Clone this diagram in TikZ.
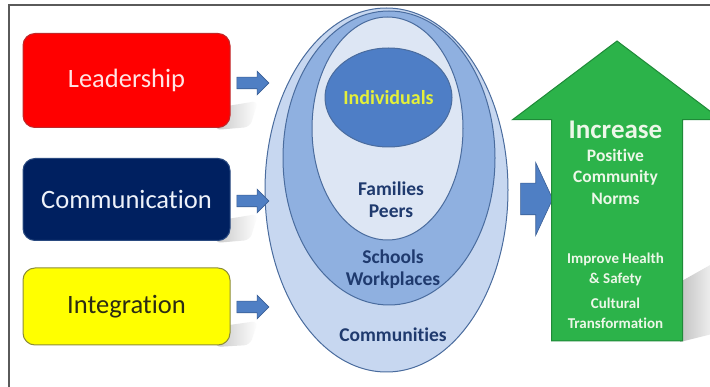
\documentclass[tikz,border=0pt]{standalone}
\usepackage{fontspec}
\setmainfont[Ligatures=NoCommon]{Carlito}
\usetikzlibrary{shapes.geometric,shapes.arrows,calc}

\definecolor{leadred}{HTML}{FF0000}
\definecolor{leadredline}{HTML}{C0282A}
\definecolor{leadtext}{HTML}{FFE4E4}
\definecolor{commnavy}{HTML}{002060}
\definecolor{commline}{HTML}{2A4A80}
\definecolor{commtext}{HTML}{EEF2FA}
\definecolor{intyellow}{HTML}{FFFF00}
\definecolor{intline}{HTML}{8C8C3A}
\definecolor{inttext}{HTML}{2B2B14}
\definecolor{arrowblue}{HTML}{4F7FC4}
\definecolor{arrowline}{HTML}{3A5F95}
\definecolor{ringouter}{HTML}{C7D7F0}
\definecolor{ringmid}{HTML}{8FB0E0}
\definecolor{ringinner}{HTML}{DDE6F4}
\definecolor{coreblue}{HTML}{4E7EC6}
\definecolor{ringline}{HTML}{4A6C9E}
\definecolor{labelnavy}{HTML}{1F3A6E}
\definecolor{coretext}{HTML}{E4F03A}
\definecolor{upgreen}{HTML}{2CB34A}
\definecolor{upgreenline}{HTML}{1F8A38}
\definecolor{greentext}{HTML}{ECF7E8}
\definecolor{framegray}{HTML}{5A5A5A}

\tikzset{
  frameline/.style={draw=framegray, line width=1.8pt},
  box/.style={rectangle, rounded corners=12pt, minimum width=207pt, inner sep=0pt,
    line width=1pt, font=\fontsize{26.5}{28}\selectfont},
  smallarrow/.style={single arrow, fill=arrowblue, draw=arrowline, line width=0.6pt,
    minimum height=32pt, inner xsep=0pt, inner ysep=5.5pt, outer sep=0pt,
    single arrow head extend=6pt},
  bigarrow/.style={single arrow, fill=arrowblue, draw=arrowline, line width=0.6pt,
    minimum height=32pt, inner xsep=0pt, inner ysep=15.5pt, outer sep=0pt,
    single arrow head extend=20.5pt, single arrow tip angle=130},
  uparrow/.style={single arrow, shape border rotate=90, fill=upgreen, draw=upgreenline,
    line width=1pt, minimum height=300pt, inner xsep=65pt, inner ysep=0pt,
    outer sep=0pt, single arrow head extend=39pt, single arrow tip angle=106},
  ring/.style={ellipse, draw=ringline, line width=1pt, inner sep=0pt},
  ringlabel/.style={text=labelnavy, font=\bfseries\fontsize{19.5}{22}\selectfont,
    align=center, inner sep=0pt},
  greenlabel/.style={text=greentext, font=\bfseries\fontsize{17.5}{21.5}\selectfont,
    align=center, inner sep=0pt},
  greensmall/.style={text=greentext, font=\bfseries\fontsize{15}{19.5}\selectfont,
    align=center, inner sep=0pt},
  softshade/.style={left color=black!22, right color=white, draw=none,
    rounded corners=6pt},
}

\begin{document}
\begin{tikzpicture}[x=1pt, y=-1pt]
\useasboundingbox (0,0) rectangle (710,387);
\fill[white] (0,0) rectangle (710,387);

% outer frame (top and left edges)
\coordinate (fbl) at (9,395);
\coordinate (ftl) at (9,5);
\coordinate (ftr) at (716,5);
\draw[frameline] (fbl) -- (ftl) -- (ftr);

% soft shadows behind the boxes and the green arrow
\shade[softshade] (215,130) -- (215,108) -- (258,101) -- (250,127) -- cycle;
\shade[softshade] (215,243) -- (215,221) -- (258,214) -- (250,240) -- cycle;
\shade[softshade] (215,347) -- (215,327) -- (258,321) -- (250,345) -- cycle;
\shade[left color=black!24, right color=black!6, draw=none]
  (680,342) -- (680,282) -- (712,264) -- (712,334) -- cycle;

% the three driver boxes
\node[box, minimum height=94pt, fill=leadred, draw=leadredline, text=leadtext]
  (lead) at (126.5,80.5) {Leadership};
\node[box, minimum height=82pt, fill=commnavy, draw=commline, text=commtext]
  (comm) at (126.5,199.5) {Communication};
\node[box, minimum height=77pt, fill=intyellow, draw=intline, text=inttext]
  (integ) at (126.5,306.5) {Integration};

% nested circles of influence
\node[ring, fill=ringouter, minimum width=243pt, minimum height=364pt]
  (communities) at (386.5,190) {};
\node[ring, fill=ringmid, minimum width=212pt, minimum height=294pt]
  (schools) at (389,158) {};
\node[ring, fill=ringinner, minimum width=151pt, minimum height=223pt]
  (families) at (387.5,128.5) {};
\node[ring, fill=coreblue, minimum width=127pt, minimum height=99pt]
  (core) at (388.5,97.5) {};

\node[text=coretext, font=\bfseries\fontsize{20}{22}\selectfont, inner sep=0pt]
  (coretxt) at (core.center) {Individuals};
\node[ringlabel] (famtxt) at (391,200) {Families\\Peers};
\node[ringlabel] (schtxt) at (393,269.5) {Schools\\Workplaces};
\node[ringlabel] (comtxt) at (393,335) {Communities};

% small block arrows from the boxes to the circles
\node[smallarrow] (a1) at (250,83) {};
\node[smallarrow] (a2) at (250,201) {};
\node[smallarrow] (a3) at (250,307) {};

% block arrow from the circles to the outcome
\node[bigarrow] (a4) at (533,199) {};

% upward outcome arrow
\node[uparrow, anchor=tail] (outcome) at (617,341) {};

\node[text=greentext, font=\bfseries\fontsize{27}{29}\selectfont, inner sep=0pt]
  (inc) at (615.5,130) {Increase};
\node[greenlabel] (norms) at (615.5,176.5) {Positive\\Community\\Norms};
\node[greensmall] (health) at (615.5,269.5) {Improve Health\\\& Safety};
\node[greensmall] (culture) at (615.5,313.5) {Cultural\\Transformation};
\end{tikzpicture}
\end{document}
